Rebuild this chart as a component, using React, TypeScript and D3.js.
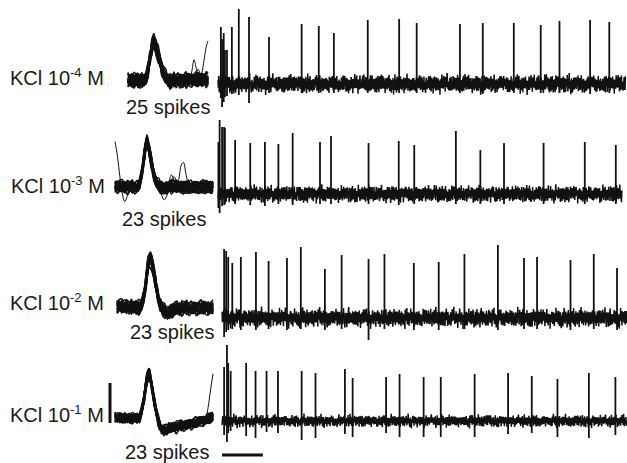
import React from "react";
import * as d3 from "d3";

// ---------- DATA ----------
const CONDITION = "KCl 10";
const EXPONENTS = ["-4", "-3", "-2", "-1"];
const UNIT = " M";
const SPIKE_LABELS = ["25 spikes", "23 spikes", "23 spikes", "23 spikes"];
const SPIKE_COUNTS = [25, 23, 23, 23];

// spike times (s), peak amplitudes (uV above baseline), trough depths (uV below baseline)
const SPIKE_T1 = [0.07, 0.10, 0.14, 0.17, 0.22, 0.34, 0.51, 0.76, 1.25, 2.05, 2.47, 2.84, 3.67, 4.44, 4.87, 5.93, 6.49, 7.25, 7.91, 8.37, 9.12, 9.59];
const SPIKE_A1 = [57, 45, 51, 34, 34, 57, 75, 67, 47, 60, 58, 51, 64, 65, 61, 60, 61, 61, 59, 63, 64, 62];
const SPIKE_D1 = [14, 23, 18, 13, 12, 10, 11, 19, 9, 9, 9, 9, 9, 9, 9, 9, 10, 9, 9, 9, 10, 9];

const SPIKE_T2 = [0.01, 0.04, 0.10, 0.15, 0.17, 0.42, 0.79, 1.15, 1.48, 1.83, 2.50, 2.77, 3.69, 4.43, 4.81, 5.83, 6.43, 7.01, 7.98, 8.99, 9.75];
const SPIKE_A2 = [52, 74, 67, 67, 66, 54, 51, 52, 50, 61, 52, 58, 51, 53, 49, 63, 44, 51, 51, 52, 49];
const SPIKE_D2 = [14, 19, 12, 11, 10, 10, 11, 12, 10, 11, 10, 10, 10, 11, 10, 10, 10, 10, 10, 10, 10];

const SPIKE_T3 = [0.15, 0.20, 0.25, 0.35, 0.56, 0.93, 1.24, 1.69, 2.03, 2.62, 3.03, 3.69, 4.08, 4.80, 5.41, 6.04, 6.86, 7.50, 7.82, 8.64, 9.21, 9.78];
const SPIKE_A3 = [69, 67, 61, 55, 61, 66, 57, 60, 71, 49, 63, 59, 64, 55, 56, 64, 73, 60, 61, 58, 64, 50];
const SPIKE_D3 = [19, 14, 12, 11, 12, 12, 11, 12, 11, 12, 11, 22, 11, 12, 12, 11, 12, 11, 11, 12, 11, 12];

const SPIKE_T4 = [0.15, 0.22, 0.25, 0.31, 0.69, 0.92, 1.19, 1.47, 2.05, 2.39, 3.11, 3.30, 4.12, 4.45, 5.04, 5.46, 6.29, 7.11, 7.69, 8.32, 9.09, 9.74];
const SPIKE_A4 = [54, 76, 58, 50, 58, 50, 50, 50, 50, 48, 52, 43, 44, 47, 44, 44, 47, 48, 45, 42, 48, 44];
const SPIKE_D4 = [14, 21, 12, 10, 15, 17, 11, 12, 19, 17, 13, 16, 12, 16, 16, 16, 16, 13, 12, 16, 17, 14];

// hand-read noise texture (normalised)
const NOISE = [0.3, -0.6, 0.8, -0.2, -0.9, 0.5, 0.1, -0.4, 0.9, -0.7, 0.2, 0.6, -0.3, -0.8, 0.4, 0.7, -0.5, 0.0, -0.9, 0.6, 0.3, -0.2, 0.8, -0.6, -0.1, 0.5, -0.8, 0.9, -0.3, 0.2, -0.7, 0.4, 0.6, -0.5, -0.2, 0.7, -0.9, 0.1, 0.5, -0.4, 0.8, -0.6, 0.3, -0.1, -0.7, 0.9, -0.3, 0.4, -0.8, 0.2, 0.6, -0.5, 0.7, -0.2, -0.6, 0.1, 0.8, -0.9, 0.4, -0.3, 0.5, -0.7, 0.2, 0.9, -0.4, -0.1, 0.6, -0.8, 0.3, 0.7, -0.5, -0.2, 0.4, -0.9, 0.8, -0.1, 0.2, -0.6, 0.5, 0.9, -0.3, -0.7, 0.1, 0.6, -0.4, 0.3, -0.8, 0.7, -0.2];

// average waveforms (41 samples over 2 ms, uV)
const WAVE1 = [0, 0, 0, 0, 0, 0, 0, 0, 0, 2, 10, 22, 33, 38, 33, 26, 18, 11, 5, 2, 0, -1, -1, 0, 0, 0, 0, 0, 0, 0, 0, 0, 0, 0, 0, 0, 0, 0, 0, 0, 0];
const WAVE2 = [0, 0, 0, 0, 0, 0, 0, 0, 0, 0, 3, 15, 32, 46, 36, 22, 11, 4, 1, -1, -2, -1, 0, 0, 0, 0, 0, 0, 0, 0, 0, 0, 0, 0, 0, 0, 0, 0, 0, 0, 0];
const WAVE3 = [0, 0, 0, 0, 0, 0, 0, 0, 0, 0, 1, 9, 24, 41, 48, 38, 24, 11, 2, -3, -5, -6, -5, -4, -3, -2, -2, -1, -1, -1, -1, -1, -1, -1, -1, -1, -1, -1, -1, -1, -1];
const WAVE4 = [0, 0, 0, 0, 0, 0, 0, 0, 0, 0, 1, 8, 22, 38, 42, 32, 17, 4, -6, -11, -12, -12, -11, -10, -9, -9, -8, -8, -7, -7, -6, -6, -5, -5, -4, -3, -3, -2, -1, 0, 1];

// per-sweep gains and offsets of the overlaid waveforms
const GAINS = [1.0, 0.95, 1.05, 0.9, 1.1, 0.98, 1.02, 0.93, 1.07, 0.97, 1.03, 0.88, 1.12, 0.96, 1.04, 0.92, 1.08, 0.99, 1.01, 0.94, 1.06, 0.91, 1.09, 0.97, 1.0];
const OFFSETS = [0, 1.5, -1.5, 2, -2, 0.5, -0.5, 3, -3, 1, -1, 2.5, -2.5, 0, 1, -1, 2, -2, 0.5, -0.5, 1.5, -1.5, 3, -3, 0];

// outlier sweeps (added to the average waveform)
const EXTRA1A = [0, 0, 0, 0, 0, 0, 0, 0, 0, 0, 0, 0, 0, 0, 0, 0, 0, 0, 0, 0, 0, 0, 0, 0, 0, 0, 0, 0, 0, 0, 0, 0, 10, 20, 14, 4, 0, 8, 20, 32, 38];
const EXTRA1B = [0, 0, 0, 2, 6, 8, 3, 0, 0, 0, 0, 0, 0, 0, 0, 0, 0, 0, 0, 0, -4, -7, -8, -6, -2, 0, 0, 0, 0, 0, 0, 0, 0, 2, 6, 12, 6, 0, 0, 0, 0];
const EXTRA2A = [45, 30, 10, -8, -15, -10, -3, 0, 0, 0, 0, 0, 0, 0, 0, 0, 0, 0, 0, 0, 0, 0, 0, 0, 0, 0, 0, 0, 0, 0, 0, 0, 0, 0, 0, 0, 0, 0, -3, -5, -4];
const EXTRA2B = [0, 0, 0, 0, 0, 0, 0, 0, 0, 0, 0, 0, 0, 0, 0, 0, 0, 0, 0, 0, -4, -2, 4, 12, 6, 0, 8, 22, 25, 12, 2, -4, -2, 0, 0, 0, 0, 0, 0, 0, 0];
const EXTRA2C = [0, 0, 0, -3, -6, -2, 0, 0, 0, 0, 0, 0, 0, 0, 0, 0, 0, 0, 0, -6, -12, -10, -4, 2, 10, 6, 0, -6, -8, -4, 0, 0, 0, 0, 0, 0, 0, 0, 0, 0, 0];
const EXTRA4A = [0, 0, 0, 0, 0, 0, 0, 0, 0, 0, 0, 0, 0, 0, 0, 0, 0, 0, 0, 0, 0, 0, 0, 0, 0, 0, 0, 0, 0, 0, 0, 0, 0, 0, 0, 0, 0, 2, 12, 28, 42];
const EXTRA4B = [0, 0, 0, 0, -2, -4, -2, 0, 0, 0, 0, 0, 4, 3, 0, 0, 0, 0, -3, -4, -3, -2, 0, 0, 0, 0, 0, 0, 0, 0, 0, 0, 0, 0, 0, 0, 0, 0, 0, 0, 0];

const TIME_SCALE_BAR = 1; // s
const VOLT_SCALE_BAR = 40; // uV

// ---------- LAYOUT ----------
const W = 627;
const H = 463;
const FONT = "'Liberation Sans', Arial, Helvetica, sans-serif";
const INK = "#111";

const ROWS = [
  { base: 84, noise: 12, t0: 0, t1: 9.98, phase: 0, spikes: [SPIKE_T1, SPIKE_A1, SPIKE_D1], wave: WAVE1, extras: [EXTRA1A, EXTRA1B], wx: [128, 208], wbase: 80, jit: 5.5, labelX: 10, labelY: 85, countX: 126, countY: 114 },
  { base: 194, noise: 11, t0: 0, t1: 9.9, phase: 23, spikes: [SPIKE_T2, SPIKE_A2, SPIKE_D2], wave: WAVE2, extras: [EXTRA2A, EXTRA2B, EXTRA2C], wx: [115, 213], wbase: 187, jit: 5, labelX: 11, labelY: 193, countX: 122, countY: 226 },
  { base: 318, noise: 12, t0: 0.1, t1: 10.02, phase: 47, spikes: [SPIKE_T3, SPIKE_A3, SPIKE_D3], wave: WAVE3, extras: [], wx: [117, 213], wbase: 307, jit: 5.5, labelX: 10, labelY: 310, countX: 130, countY: 339 },
  { base: 421, noise: 8, t0: 0.1, t1: 10.02, phase: 61, spikes: [SPIKE_T4, SPIKE_A4, SPIKE_D4], wave: WAVE4, extras: [EXTRA4A, EXTRA4B], wx: [115, 213], wbase: 418, jit: 4, labelX: 10, labelY: 422, countX: 125, countY: 459 },
];

const x = d3.scaleLinear().domain([0, 10]).range([218, 626]);

function noiseAt(i: number, phase: number) {
  const a = NOISE[(i + phase) % NOISE.length];
  const b = NOISE[(Math.floor(i / 3) + phase * 2) % NOISE.length];
  const c = NOISE[(Math.floor(i / 11) + phase * 3) % NOISE.length];
  return 0.7 * a + 0.2 * b + 0.15 * c;
}

function Row({ r, idx }: { r: (typeof ROWS)[number]; idx: number }) {
  const y = d3.scaleLinear().domain([-40, 80]).range([r.base + 40, r.base - 80]);
  const dt = 0.008;
  const n = Math.round((r.t1 - r.t0) / dt);
  const pts: [number, number][] = [];
  for (let i = 0; i <= n; i++) pts.push([r.t0 + i * dt, r.noise * noiseAt(i, r.phase)]);
  const line = d3.line<[number, number]>().x((d) => x(d[0])).y((d) => y(d[1]));
  const [ts, as, ds] = r.spikes;

  // waveform panel
  const wxs = d3.scaleLinear().domain([0, 2]).range(r.wx);
  const wys = d3.scaleLinear().domain([-20, 60]).range([r.wbase + 20, r.wbase - 60]);
  const wline = d3.line<number>().x((_, i) => wxs(i * 0.05)).y((v) => wys(v)).curve(d3.curveMonotoneX);
  const sweeps: number[][] = [];
  for (let k = 0; k < SPIKE_COUNTS[idx]; k++) {
    sweeps.push(r.wave.map((v, i) => v * GAINS[k] + OFFSETS[k] * (r.jit / 5) + r.jit * NOISE[(i * 7 + k * 13 + r.phase) % NOISE.length]));
  }
  r.extras.forEach((e, k) => {
    sweeps.push(r.wave.map((v, i) => v + e[i] + 1.5 * NOISE[(i * 5 + k * 29) % NOISE.length]));
  });

  return (
    <g>
      <text x={r.labelX} y={r.labelY} fontSize={20} fontFamily={FONT} fill="#1a1a1a">
        {CONDITION}
        <tspan dy={-8} fontSize={13}>{EXPONENTS[idx]}</tspan>
        <tspan dy={8}>{UNIT}</tspan>
      </text>
      <text x={r.countX} y={r.countY} fontSize={20} fontFamily={FONT} fill="#1a1a1a">
        {SPIKE_LABELS[idx]}
      </text>
      <g fill="none" stroke={INK}>
        {sweeps.map((s, k) => (
          <path key={k} d={wline(s) || ""} strokeWidth={k < SPIKE_COUNTS[idx] ? 1.5 : 1} />
        ))}
      </g>
      <path d={line(pts) || ""} fill="none" stroke={INK} strokeWidth={1.5} strokeLinejoin="bevel" />
      <g stroke={INK} strokeWidth={1.8}>
        {ts.map((t, i) => (
          <line key={i} x1={x(t)} x2={x(t)} y1={y(-ds[i])} y2={y(as[i])} />
        ))}
      </g>
      {idx === 3 && (
        <g stroke={INK} strokeWidth={3}>
          <line x1={110} x2={110} y1={wys(VOLT_SCALE_BAR - 5)} y2={wys(-5)} />
          <line x1={x(0.1)} x2={x(0.1 + TIME_SCALE_BAR)} y1={455} y2={455} />
        </g>
      )}
    </g>
  );
}

export default function App() {
  return (
    <svg width={W} height={H} style={{ position: "absolute", left: 0, top: 0, background: "#fff" }}>
      <rect width={W} height={H} fill="#fff" />
      {ROWS.map((r, i) => (
        <Row key={i} r={r} idx={i} />
      ))}
    </svg>
  );
}
